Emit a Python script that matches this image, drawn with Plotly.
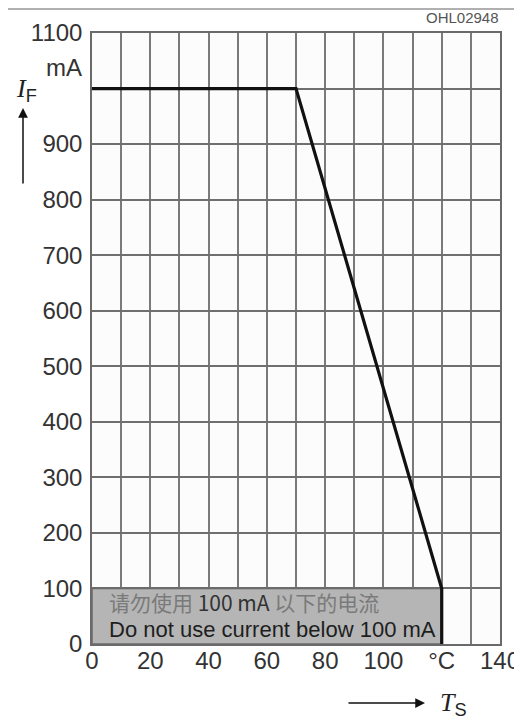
import plotly.graph_objects as go

# Data
temp_c = [0, 70, 120, 120]          # T_S in °C
current_ma = [1000, 1000, 100, 0]   # I_F in mA
limit_temp = 120
limit_current = 100

x_ticks = list(range(0, 141, 10))
x_labels = ["0", "", "20", "", "40", "", "60", "", "80", "", "100", "", "°C", "", "140"]
y_ticks = list(range(0, 1101, 100))
y_labels = ["0", "100", "200", "300", "400", "500", "600", "700", "800", "900", "", "1100"]

SANS = "Liberation Sans, Arial, sans-serif"

W, H = 522, 720
OFF = 8  # page body margin offset
PL, PR, PT, PB = 92, 500, 33, 644  # plot area in screenshot pixels
ML, MT = PL - OFF, PT - OFF
PW, PH = PR - PL, PB - PT
MR, MB = W - ML - PW, H - MT - PH


def px(x):
    return (x - PL) / PW


def py(y):
    return (PB - y) / PH


fig = go.Figure()

# grey "do not use" region
fig.add_trace(go.Scatter(
    x=[0, limit_temp, limit_temp, 0, 0],
    y=[0, 0, limit_current, limit_current, 0],
    mode="lines", fill="toself", fillcolor="#b5b5b5",
    line=dict(color="#6a6a6a", width=1.5), hoverinfo="skip", showlegend=False))

# derating curve
fig.add_trace(go.Scatter(
    x=temp_c, y=current_ma, mode="lines",
    line=dict(color="#111111", width=3.2), showlegend=False))

fig.update_layout(
    width=W, height=H,
    margin=dict(l=ML, r=MR, t=MT, b=MB),
    paper_bgcolor="white", plot_bgcolor="#fcfcfc",
    font=dict(family=SANS, size=24, color="#333333"),
    showlegend=False,
)
fig.update_xaxes(
    range=[0, 140], tickvals=x_ticks, ticktext=x_labels,
    showgrid=True, gridcolor="#7a7a7a", gridwidth=1.5,
    showline=True, linecolor="#6a6a6a", linewidth=1.5, mirror=True,
    zeroline=False, ticks="", automargin=False, ticklabelstandoff=-6,
    tickfont=dict(size=24, color="#333"))
fig.update_yaxes(
    range=[0, 1100], tickvals=y_ticks, ticktext=y_labels,
    showgrid=True, gridcolor="#6f6f6f", gridwidth=1.5,
    showline=True, linecolor="#6a6a6a", linewidth=1.5, mirror=True,
    zeroline=False, ticks="", automargin=False, ticklabelstandoff=3,
    tickfont=dict(size=24, color="#333"))

annotations = [
    dict(x=5, y=75, xref="x", yref="y", xanchor="left", yanchor="middle",
         text='<span style="color:#7a7a7a">请勿使用</span> 100 mA <span style="color:#7a7a7a">以下的电流</span>',
         showarrow=False, font=dict(family="Noto Sans CJK SC, " + SANS, size=21, color="#333")),
    dict(x=5, y=27, xref="x", yref="y", xanchor="left", yanchor="middle",
         text="Do not use current below 100 mA",
         showarrow=False, font=dict(family=SANS, size=22, color="#1e1e1e")),
    dict(x=px(501), y=py(17), xref="paper", yref="paper", xanchor="right", yanchor="middle",
         text="OHL02948", showarrow=False, font=dict(family=SANS, size=15, color="#555")),
    dict(x=px(84), y=py(67), xref="paper", yref="paper", xanchor="right", yanchor="middle",
         text="mA", showarrow=False, font=dict(family=SANS, size=24, color="#333")),
    dict(x=px(14), y=py(90), xref="paper", yref="paper", xanchor="left", yanchor="middle",
         text='<i style="font-family:Liberation Serif">I</i><sub>F</sub>', showarrow=False,
         font=dict(family=SANS, size=26, color="#222")),
    dict(x=px(438), y=py(704), xref="paper", yref="paper", xanchor="left", yanchor="middle",
         text='<i style="font-family:Liberation Serif">T</i><sub>S</sub>', showarrow=False,
         font=dict(family=SANS, size=26, color="#222")),
    # axis arrows
    dict(x=px(23), y=py(108), ax=0, ay=77,
         xref="paper", yref="paper", axref="pixel", ayref="pixel",
         text="", showarrow=True, arrowhead=2, arrowsize=1.3, arrowwidth=1.5, arrowcolor="#111"),
    dict(x=px(425), y=py(703), ax=-78, ay=0,
         xref="paper", yref="paper", axref="pixel", ayref="pixel",
         text="", showarrow=True, arrowhead=2, arrowsize=1.3, arrowwidth=1.5, arrowcolor="#111"),
]
fig.update_layout(annotations=annotations)

fig.add_shape(type="line", xref="paper", yref="paper", x0=px(OFF), x1=px(W), y0=py(OFF + 1), y1=py(OFF + 1),
              line=dict(color="#b0b0b0", width=2))

fig.write_html("out.html")
